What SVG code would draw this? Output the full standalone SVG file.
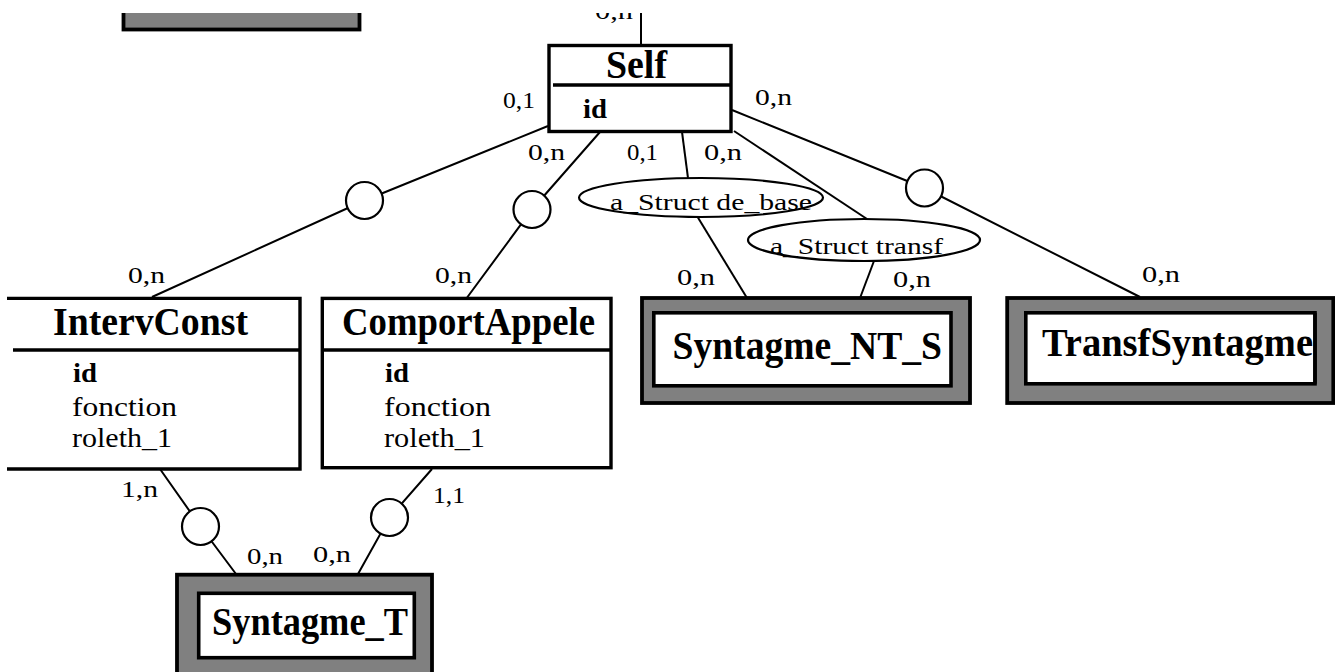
<svg xmlns="http://www.w3.org/2000/svg" width="1335" height="672" viewBox="0 0 1335 672">
  <style>
    .frame { fill: #fff; stroke: #000; stroke-width: 3.4; }
    .weak { fill: #808080; stroke: #000; stroke-width: 3.8; }
    .weak-in { fill: #fff; stroke: #000; stroke-width: 3.6; }
    .link { fill: none; stroke: #000; stroke-width: 2; }
    .assoc { fill: #fff; stroke: #000; stroke-width: 2.2; }
    .title { font-family: "Liberation Serif", "Times New Roman", serif; font-weight: bold; font-size: 40px; fill: #000; }
    .attr { font-family: "Liberation Serif", "Times New Roman", serif; font-size: 28px; fill: #000; }
    .key { font-weight: bold; }
    .card { font-family: "Liberation Serif", "Times New Roman", serif; font-size: 24px; fill: #000; }
    .rel { font-family: "Liberation Serif", "Times New Roman", serif; font-size: 24px; fill: #000; }
  </style>
  <defs>
    <clipPath id="sheet">
      <rect x="0" y="13" width="1335" height="659"/>
    </clipPath>
  </defs>
  <rect x="0" y="0" width="1335" height="672" fill="#fff"/>
  <g clip-path="url(#sheet)">
    <!-- connectors -->
    <g id="connectors">
      <polyline class="link" points="641,0 641,45"/>
      <polyline class="link" points="548,126 364.5,200.5 152,297"/>
      <polyline class="link" points="600,132 532,209.5 466,299"/>
      <polyline class="link" points="682,132 688,178"/>
      <polyline class="link" points="697,216 747,298"/>
      <polyline class="link" points="734,131 867,219"/>
      <polyline class="link" points="874,261 860,298"/>
      <polyline class="link" points="732,110 924.5,188 1140,297"/>
      <polyline class="link" points="160,469 200.5,526.5 236,574"/>
      <polyline class="link" points="432,469 389.5,517.5 358,574"/>
    </g>

    <!-- entity partly outside the sheet -->
    <g id="entity-top">
      <rect class="weak" x="123.5" y="-20" width="236" height="49.5"/>
    </g>

    <g id="self">
      <rect class="frame" x="549" y="45.5" width="182" height="86"/>
      <line x1="553" y1="85" x2="731" y2="85" stroke="#000" stroke-width="3.4"/>
      <text class="title" x="606" y="78" textLength="61" lengthAdjust="spacingAndGlyphs">Self</text>
      <text class="attr key" x="583" y="118" textLength="24" lengthAdjust="spacingAndGlyphs">id</text>
    </g>

    <g id="intervconst">
      <path d="M7,298.4 H300 V469 H7" fill="#fff" stroke="#000" stroke-width="3.4"/>
      <line x1="13" y1="350" x2="300" y2="350" stroke="#000" stroke-width="3.4"/>
      <text class="title" x="53" y="335" textLength="195" lengthAdjust="spacingAndGlyphs">IntervConst</text>
      <text class="attr key" x="73" y="382" textLength="24" lengthAdjust="spacingAndGlyphs">id</text>
      <text class="attr" x="72" y="416" textLength="105" lengthAdjust="spacingAndGlyphs">fonction</text>
      <text class="attr" x="72" y="447" textLength="100" lengthAdjust="spacingAndGlyphs">roleth_1</text>
    </g>

    <g id="comportappele">
      <rect class="frame" x="322.3" y="298.4" width="288.7" height="169.3"/>
      <line x1="322" y1="350" x2="611" y2="350" stroke="#000" stroke-width="3.4"/>
      <text class="title" x="342" y="335" textLength="253" lengthAdjust="spacingAndGlyphs">ComportAppele</text>
      <text class="attr key" x="385" y="382" textLength="24" lengthAdjust="spacingAndGlyphs">id</text>
      <text class="attr" x="384" y="416" textLength="107" lengthAdjust="spacingAndGlyphs">fonction</text>
      <text class="attr" x="384" y="447" textLength="101" lengthAdjust="spacingAndGlyphs">roleth_1</text>
    </g>

    <g id="syntagme-nt-s">
      <rect class="weak" x="642" y="298" width="328" height="105"/>
      <rect class="weak-in" x="653.8" y="312.8" width="297.2" height="73"/>
      <text class="title" x="672.5" y="359" textLength="269.5" lengthAdjust="spacingAndGlyphs">Syntagme_NT_S</text>
    </g>

    <g id="transfsyntagme">
      <rect class="weak" x="1007.2" y="298" width="326.1" height="105"/>
      <rect class="weak-in" x="1025.8" y="312.8" width="289.2" height="71"/>
      <text class="title" x="1042" y="356" textLength="271" lengthAdjust="spacingAndGlyphs">TransfSyntagme</text>
      <line x1="1315" y1="312.8" x2="1315" y2="383.8" stroke="#000" stroke-width="3.6"/>
    </g>

    <g id="syntagme-t">
      <rect class="weak" x="177" y="574.7" width="255" height="120"/>
      <rect class="weak-in" x="198.7" y="593.3" width="215.6" height="64.4"/>
      <text class="title" x="212" y="635" textLength="196" lengthAdjust="spacingAndGlyphs">Syntagme_T</text>
    </g>

    <!-- associations -->
    <g id="assoc-1"><circle class="assoc" cx="364.5" cy="200.5" r="18.5"/></g>
    <g id="assoc-2"><circle class="assoc" cx="532" cy="209.5" r="18.5"/></g>
    <g id="assoc-3"><circle class="assoc" cx="924.5" cy="188" r="18.5"/></g>
    <g id="assoc-4"><circle class="assoc" cx="200.5" cy="526.5" r="18.5"/></g>
    <g id="assoc-5"><circle class="assoc" cx="389.5" cy="517.5" r="18.5"/></g>

    <g id="a-struct-de-base">
      <ellipse class="assoc" cx="701" cy="197.5" rx="122" ry="19.5"/>
      <text class="rel" x="610" y="210" textLength="202" lengthAdjust="spacingAndGlyphs">a_Struct de_base</text>
    </g>
    <g id="a-struct-transf">
      <ellipse class="assoc" cx="864" cy="240" rx="116" ry="21"/>
      <text class="rel" x="770" y="254" textLength="173" lengthAdjust="spacingAndGlyphs">a_Struct transf</text>
    </g>

    <!-- cardinalities -->
    <g id="cardinalities">
      <text class="card" x="595" y="19" textLength="38" lengthAdjust="spacingAndGlyphs">0,n</text>
      <text class="card" x="503" y="108" textLength="32" lengthAdjust="spacingAndGlyphs">0,1</text>
      <text class="card" x="755" y="105" textLength="37" lengthAdjust="spacingAndGlyphs">0,n</text>
      <text class="card" x="528" y="160" textLength="37" lengthAdjust="spacingAndGlyphs">0,n</text>
      <text class="card" x="627" y="160" textLength="31" lengthAdjust="spacingAndGlyphs">0,1</text>
      <text class="card" x="704" y="160" textLength="38" lengthAdjust="spacingAndGlyphs">0,n</text>
      <text class="card" x="128" y="283" textLength="37" lengthAdjust="spacingAndGlyphs">0,n</text>
      <text class="card" x="435" y="283" textLength="37" lengthAdjust="spacingAndGlyphs">0,n</text>
      <text class="card" x="677" y="285" textLength="38" lengthAdjust="spacingAndGlyphs">0,n</text>
      <text class="card" x="893" y="287" textLength="38" lengthAdjust="spacingAndGlyphs">0,n</text>
      <text class="card" x="1142" y="282" textLength="38" lengthAdjust="spacingAndGlyphs">0,n</text>
      <text class="card" x="121" y="497" textLength="37" lengthAdjust="spacingAndGlyphs">1,n</text>
      <text class="card" x="433" y="503" textLength="32" lengthAdjust="spacingAndGlyphs">1,1</text>
      <text class="card" x="247" y="564" textLength="36" lengthAdjust="spacingAndGlyphs">0,n</text>
      <text class="card" x="313" y="562" textLength="38" lengthAdjust="spacingAndGlyphs">0,n</text>
    </g>
  </g>
</svg>
